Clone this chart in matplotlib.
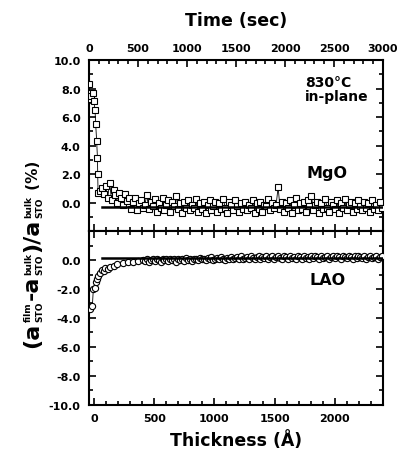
import numpy as np
import matplotlib
matplotlib.use("Agg")
import matplotlib.pyplot as plt
from matplotlib.ticker import MultipleLocator, FormatStrFormatter
from matplotlib.transforms import IdentityTransform

plt.rcParams['font.family'] = ['DejaVu Sans']
plt.rcParams['font.weight'] = 'bold'

# ---- data (time in sec, strain in %) ----
mgo_t_early = [0, 5, 12, 25, 44, 50, 61, 68, 78, 86, 89, 92]
mgo_v_early = [8.3, 7.25, 7.7, 7.5, 7.7, 7.1, 6.5, 5.5, 4.3, 3.15, 2.0, 0.7]
mgo_t_tail = np.arange(110, 3000, 20)
mgo_v_tail = [0.8, 1.05, 0.6, 1.15, 0.3, 1.4, 0.2, 0.9, 0.5, 0.0, 0.7, 0.3, -0.2, 0.6, 0.1,
              0.3, -0.45, 0.05, 0.35, -0.55, -0.05, 0.15, -0.35, -0.15, 0.55, -0.45, 0.05, -0.25, 0.25, -0.65,
              -0.05, -0.35, 0.35, -0.55, -0.15, 0.15, -0.65, 0.05, -0.25, 0.45, -0.45, -0.05, -0.75, 0.05, -0.35,
              0.15, -0.55, -0.15, -0.35, 0.25, -0.65, -0.05, -0.45, 0.05, -0.75, -0.15, 0.15, -0.55, -0.25, 0.05,
              -0.65, -0.05, -0.45, 0.25, -0.35, -0.75, 0.05, -0.15, -0.55, 0.15, -0.25, -0.65, -0.05, -0.45, 0.05,
              -0.55, -0.15, -0.35, 0.15, -0.75, -0.05, -0.45, 0.05, -0.65, -0.15, -0.25, 0.25, -0.55, -0.05, -0.35,
              -0.15, 1.1, -0.45, 0.05, -0.65, -0.05, -0.35, 0.15, -0.75, -0.15, 0.35, -0.55, -0.05, -0.45, 0.05,
              -0.65, 0.15, -0.25, 0.45, -0.55, -0.15, 0.05, -0.75, -0.05, -0.45, 0.25, -0.35, -0.65, 0.05, -0.15,
              -0.45, 0.15, -0.75, -0.05, -0.35, 0.25, -0.55, -0.15, 0.05, -0.65, -0.05, -0.45, 0.15, -0.25, -0.55,
              0.05, -0.35, -0.05, -0.65, 0.15, -0.45, -0.15, -0.55, 0.05, -0.35]

lao_t_early = [0, 15, 34, 44, 61, 72, 85, 95, 113, 130, 150, 164, 190, 215, 250, 290, 348, 400, 450, 500, 553]
lao_v_early = [-3.3, -3.4, -3.2, -2.0, -1.9, -1.5, -1.3, -1.1, -0.9, -0.7, -0.75, -0.55, -0.6, -0.45,
               -0.4, -0.3, -0.2, -0.15, -0.1, -0.05, 0.0]
lao_t_tail = np.arange(570, 3000, 20)
lao_v_tail = [-0.05, 0.05, -0.1, 0.0, 0.1, -0.05, 0.05, 0.0, -0.1, 0.1, 0.0, 0.05, -0.05, 0.1, 0.0,
              0.05, -0.1, 0.1, 0.0, 0.05, -0.05, 0.15, 0.0, 0.05, -0.05, 0.1, 0.05, 0.0, 0.15, 0.05,
              0.1, 0.0, 0.15, 0.05, 0.2, 0.0, 0.1, 0.15, 0.05, 0.2, 0.1, 0.0, 0.15, 0.1, 0.2,
              0.05, 0.15, 0.2, 0.1, 0.25, 0.05, 0.15, 0.2, 0.1, 0.3, 0.15, 0.05, 0.2, 0.25, 0.1,
              0.2, 0.15, 0.3, 0.1, 0.2, 0.25, 0.05, 0.2, 0.3, 0.15, 0.1, 0.25, 0.2, 0.1, 0.3,
              0.15, 0.2, 0.05, 0.25, 0.2, 0.1, 0.3, 0.15, 0.2, 0.1, 0.25, 0.15, 0.3, 0.2, 0.1,
              0.25, 0.15, 0.2, 0.3, 0.1, 0.2, 0.25, 0.15, 0.3, 0.2, 0.1, 0.25, 0.2, 0.15, 0.3,
              0.2, 0.1, 0.25, 0.15, 0.3, 0.2, 0.15, 0.25, 0.1, 0.2, 0.3, 0.15, 0.2, 0.25, 0.1, 0.2, 0.3]

mgo_relaxed = -0.3
lao_relaxed = 0.15
fit_start = 130

time_ticks = [0, 500, 1000, 1500, 2000, 2500, 3000]
thick_ticks = [0, 500, 1000, 1500, 2000]

mgo_t = np.concatenate([mgo_t_early, mgo_t_tail])
mgo_v = np.concatenate([mgo_v_early, mgo_v_tail])
lao_t = np.concatenate([lao_t_early, lao_t_tail])
lao_v = np.concatenate([lao_v_early, lao_v_tail])

RATE, OFFSET = 0.8143, -42.0
def t2th(t):
    return RATE * np.asarray(t) + OFFSET
def th2t(th):
    return (np.asarray(th) - OFFSET) / RATE

fig = plt.figure(figsize=(4.01, 4.56), dpi=100)
L, R = 0.222, 0.955
B, M, T = 0.110, 0.491, 0.866
ax1 = fig.add_axes([L, M, R - L, T - M])
ax2 = fig.add_axes([L, B, R - L, M - B])

TS = 8
tick_kw = dict(direction='in', width=1.2)
for ax in (ax1, ax2):
    ax.set_xlim(0, 3000)
    for s in ax.spines.values():
        s.set_linewidth(1.5)
    ax.yaxis.set_major_locator(MultipleLocator(2))
    ax.yaxis.set_minor_locator(MultipleLocator(1))
    ax.tick_params(axis='y', which='both', left=True, right=True, labelleft=True, **tick_kw)
    ax.tick_params(axis='y', which='major', length=5, labelsize=TS, pad=6)
    ax.tick_params(axis='y', which='minor', length=3)
    ax.yaxis.set_major_formatter(FormatStrFormatter('%.1f'))

ax1.set_ylim(-2, 10)
ax2.set_ylim(-10, 2)
ax1.set_yticks([0, 2, 4, 6, 8, 10])
ax2.set_yticks([-10, -8, -6, -4, -2, 0])

# top panel: time axis on top
ax1.xaxis.set_ticks_position('top')
ax1.xaxis.set_label_position('top')
ax1.set_xticks(time_ticks)
ax1.xaxis.set_minor_locator(MultipleLocator(100))
ax1.tick_params(axis='x', which='both', top=True, bottom=False, labeltop=True, labelbottom=False, **tick_kw)
ax1.tick_params(axis='x', which='major', length=5, labelsize=TS, pad=5)
ax1.tick_params(axis='x', which='minor', length=3)
ax1.set_xlabel('Time (sec)', fontsize=12.5, fontweight='bold', labelpad=13)

sec1 = ax1.secondary_xaxis('bottom', functions=(t2th, th2t))
sec1.set_xticks(thick_ticks)
sec1.xaxis.set_minor_locator(MultipleLocator(100))
sec1.tick_params(axis='x', which='both', direction='in', width=1.2, labelbottom=False)
sec1.tick_params(axis='x', which='major', length=5)
sec1.tick_params(axis='x', which='minor', length=3)
sec1.spines['bottom'].set_visible(False)

# bottom panel: thickness axis
ax2.tick_params(axis='x', which='both', top=False, bottom=False, labelbottom=False, labeltop=False)
sec2 = ax2.secondary_xaxis('bottom', functions=(t2th, th2t))
sec2.set_xticks(thick_ticks)
sec2.xaxis.set_minor_locator(MultipleLocator(100))
sec2.tick_params(axis='x', which='both', direction='in', width=1.2)
sec2.tick_params(axis='x', which='major', length=5, labelsize=TS, pad=6)
sec2.tick_params(axis='x', which='minor', length=3)
sec2.spines['bottom'].set_visible(False)
sec2.set_xlabel('Thickness (Å)', fontsize=12.5, fontweight='bold', labelpad=5)
sec3 = ax2.secondary_xaxis('top', functions=(t2th, th2t))
sec3.set_xticks(thick_ticks)
sec3.xaxis.set_minor_locator(MultipleLocator(100))
sec3.tick_params(axis='x', which='both', direction='in', width=1.2, labeltop=False)
sec3.tick_params(axis='x', which='major', length=5)
sec3.tick_params(axis='x', which='minor', length=3)
sec3.spines['top'].set_visible(False)

# data
ax1.plot(mgo_t, mgo_v, '-', color='black', lw=0.6, zorder=2)
ax1.plot(mgo_t, mgo_v, 's', mfc='white', mec='black', mew=0.8, ms=4.8, zorder=3)
ax1.plot([fit_start, 3000], [mgo_relaxed, mgo_relaxed], '-', color='black', lw=1.8, zorder=4)

ax2.plot(lao_t, lao_v, '-', color='black', lw=0.6, zorder=2)
ax2.plot(lao_t, lao_v, 'o', mfc='white', mec='black', mew=0.8, ms=4.5, zorder=3)
ax2.plot([fit_start, 3000], [lao_relaxed, lao_relaxed], '-', color='black', lw=1.8, zorder=4)

ax1.text(0.735, 0.83, '830°C\nin-plane', transform=ax1.transAxes, ha='left', va='center',
         fontsize=10, fontweight='bold', linespacing=1.0, multialignment='left')
ax1.text(0.81, 0.34, 'MgO', transform=ax1.transAxes, ha='center', va='center',
         fontsize=11.5, fontweight='bold')
ax2.text(0.81, 0.72, 'LAO', transform=ax2.transAxes, ha='center', va='center',
         fontsize=11.5, fontweight='bold')

# ---- y label built from pieces (big letters, small stacked scripts) ----
renderer = fig.canvas.get_renderer()
H = fig.bbox.height
xb = 38.0             # baseline x (pixels)
y = H - 348.0         # start (pixels from bottom)
BIG, SCR, PCT = 16, 6.5, 11
pieces = [('(a', BIG), (('film', 'STO'), SCR), ('-a', BIG), (('bulk', 'STO'), SCR),
          (')/a', BIG), (('bulk', 'STO'), SCR), (' (%)', PCT)]
tkw = dict(rotation=90, rotation_mode='anchor', ha='left', va='baseline',
           transform=IdentityTransform(), fontweight='bold')
for txt, size in pieces:
    if isinstance(txt, tuple):
        sup = fig.text(xb - 7, y + 1, txt[0], fontsize=size, **tkw)
        sub = fig.text(xb + 4, y + 1, txt[1], fontsize=size, **tkw)
        h = max(sup.get_window_extent(renderer).height, sub.get_window_extent(renderer).height)
        y += h + 2
    else:
        t = fig.text(xb, y, txt, fontsize=size, **tkw)
        y += t.get_window_extent(renderer).height

fig.savefig('out.png', dpi=100)
